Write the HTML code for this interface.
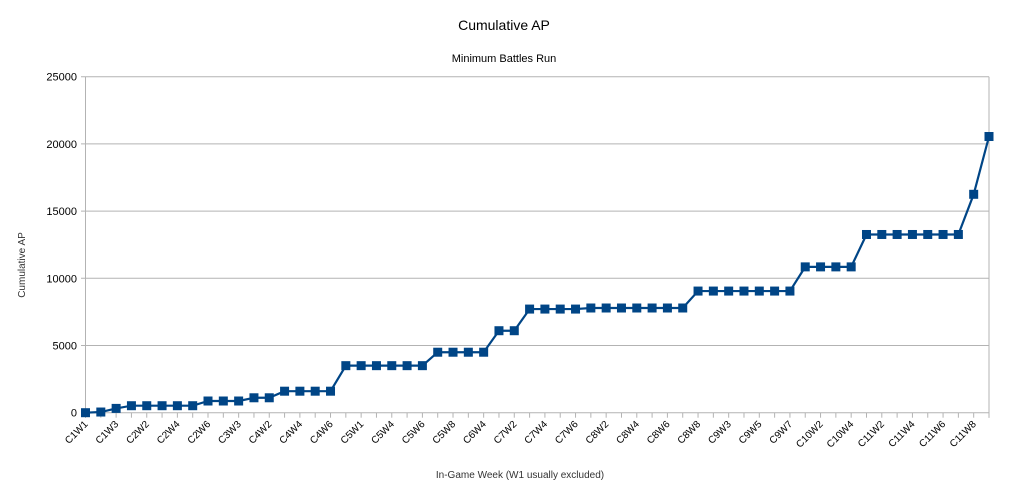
<!DOCTYPE html>
<html><head><meta charset="utf-8"><style>
body{margin:0;background:#fff;font-family:"Liberation Sans",sans-serif;}
svg text{font-family:"Liberation Sans",sans-serif;}
</style></head><body>
<svg id="chart" width="1009" height="496" xmlns="http://www.w3.org/2000/svg">
<text x="504" y="30" font-size="14" text-anchor="middle" fill="#000">Cumulative AP</text>
<text x="504" y="62" font-size="11" text-anchor="middle" fill="#000">Minimum Battles Run</text>
<text transform="translate(25,265) rotate(-90)" font-size="10" text-anchor="middle" fill="#333">Cumulative AP</text>
<text x="520" y="478" font-size="10" text-anchor="middle" fill="#333">In-Game Week (W1 usually excluded)</text>
<g id="grid"></g><g id="axes"></g><g id="series"></g>
</svg>
<script>
const categories=["C1W1","C1W2","C1W3","C1W4","C2W2","C2W3","C2W4","C2W5","C2W6","C3W2","C3W3","C3W4","C4W2","C4W3","C4W4","C4W5","C4W6","C4W7","C5W1","C5W3","C5W4","C5W5","C5W6","C5W7","C5W8","C6W3","C6W4","C6W5","C7W2","C7W3","C7W4","C7W5","C7W6","C7W7","C8W2","C8W3","C8W4","C8W5","C8W6","C8W7","C8W8","C9W2","C9W3","C9W4","C9W5","C9W6","C9W7","C9W8","C10W2","C10W3","C10W4","C10W5","C11W2","C11W3","C11W4","C11W5","C11W6","C11W7","C11W8","C11W9"];
const apValues=[0,50,320,520,520,520,520,520,870,870,870,1110,1110,1600,1600,1600,1600,3500,3500,3500,3500,3500,3500,4500,4500,4500,4500,6100,6100,7710,7710,7710,7710,7790,7790,7790,7790,7790,7790,7790,9050,9050,9050,9050,9050,9050,9050,10850,10850,10850,10850,13260,13260,13260,13260,13260,13260,13260,16250,20550];
const yTicks=[0,5000,10000,15000,20000,25000];
const X0=85.5,X1=989,Y0=412.7,Y1=76.7,YMAX=25000;
const ns="http://www.w3.org/2000/svg";
function xs(i){return X0+(X1-X0)*i/(categories.length-1);}
function ys(v){return Y0-(Y0-Y1)*v/YMAX;}
function mk(tag,attrs,parent){const e=document.createElementNS(ns,tag);for(const k in attrs)e.setAttribute(k,attrs[k]);parent.appendChild(e);return e;}
const grid=document.getElementById('grid'),axes=document.getElementById('axes'),series=document.getElementById('series');
yTicks.forEach(v=>{
 const l=mk('line',{x1:81,x2:X1,y1:ys(v),y2:ys(v),stroke:'#b3b3b3','stroke-width':1},grid);
 
 
 const t=mk('text',{x:77,y:ys(v)+4,'font-size':11,'text-anchor':'end',fill:'#000'},axes);
 
 
 t.textContent=v;
});
const ya=mk('line',{x1:X0,x2:X0,y1:Y1,y2:Y0+5,stroke:'#b3b3b3'},axes);


const yr=mk('line',{x1:X1,x2:X1,y1:Y1,y2:Y0+5,stroke:'#b3b3b3'},axes);


categories.forEach((c,i)=>{
 const x=xs(i);
 const tk=mk('line',{x1:x,x2:x,y1:Y0,y2:Y0+5,stroke:'#b3b3b3'},axes);
 
 
 if(i%2===0){
  const t=mk('text',{transform:`translate(${x+3},${Y0+12}) rotate(-45)`,'font-size':10,'text-anchor':'end',fill:'#000'},axes);
  
  
  t.textContent=c;
 }
});
const pts=apValues.map((v,i)=>xs(i)+','+ys(v)).join(' ');
const pl=mk('polyline',{points:pts,fill:'none',stroke:'#004586','stroke-width':2.2,'stroke-linejoin':'round'},series);


apValues.forEach((v,i)=>{
 const r=mk('rect',{x:xs(i)-4.5,y:ys(v)-4.5,width:9,height:9,fill:'#004586'},series);
 
 
});
</script>
</body></html>
